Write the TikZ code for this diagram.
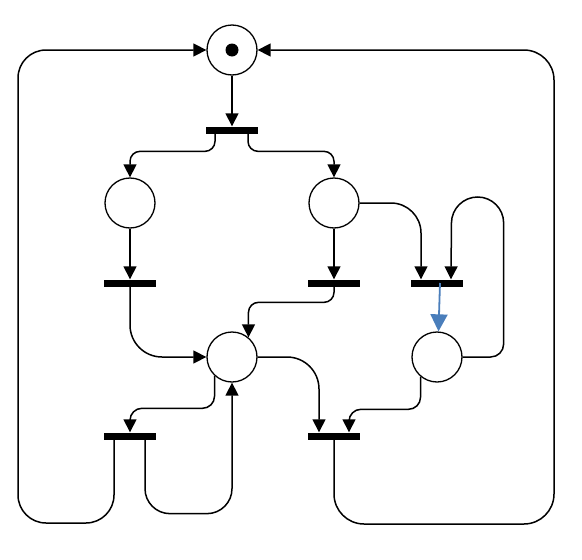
\documentclass[tikz,border=0pt]{standalone}
\usetikzlibrary{arrows.meta,calc}
\definecolor{arcblue}{HTML}{4A7EBB}
\begin{document}
\begin{tikzpicture}[x=1pt,y=-1pt,
  place/.style={circle,draw,line width=1.3pt,minimum size=50pt,inner sep=0pt},
  trans/.style={rectangle,fill=black,minimum width=52pt,minimum height=7pt,inner sep=0pt},
  arc/.style={line width=1.5pt,-{Triangle[length=13pt,width=13pt]}},
  bluearc/.style={line width=1.8pt,arcblue,-{Triangle[length=17pt,width=17pt]}}]
\useasboundingbox (0,0) rectangle (582,560);
% places
\node[place] (P0) at (232,50) {};
\fill (P0.center) circle (6.5pt);
\node[place] (P1) at (130,203) {};
\node[place] (P2) at (334,203) {};
\node[place] (P3) at (232,357) {};
\node[place] (P4) at (437,357) {};
% transitions
\node[trans] (T0) at (232,130) {};
\node[trans] (T1) at (130,283) {};
\node[trans] (T2) at (334,283) {};
\node[trans] (T3) at (437,283) {};
\node[trans] (T4) at (130,436) {};
\node[trans] (T5) at (334,436) {};
% corner coordinates of outer loops
\coordinate (BL) at (18,523);
\coordinate (BR) at (554,524);
% arcs
\draw[arc] (P0.south) -- (T0.north);
\draw[arc,rounded corners=10pt] ([xshift=-17pt]T0.south) |- ($(P1.north)+(0,-26)$) -- (P1.north);
\draw[arc,rounded corners=10pt] ([xshift=16pt]T0.south) |- ($(P2.north)+(0,-26)$) -- (P2.north);
\draw[arc] (P1.south) -- (T1.north);
\draw[arc] (P2.south) -- (T2.north);
\draw[arc,rounded corners=30pt] (P2.east) -| ([xshift=-16pt]T3.north);
\draw[arc] (P4.east) [rounded corners=13pt] -- ++(41,0) [rounded corners=26pt] -- ++(0,-160) -- ++(-52,0) -- ([xshift=14pt]T3.north);
\draw[bluearc] ([xshift=3pt]T3.center) -- ([xshift=1.5pt]P4.north);
\draw[arc,rounded corners=32pt] (T1.south) |- (P3.west);
\draw[arc,rounded corners=10pt] (T2.south) |- ($(P3.50)+(0,-35)$) -- (P3.50);
\draw[arc,rounded corners=32pt] (P3.east) -| ([xshift=-15pt]T5.north);
\draw[arc,rounded corners=12pt] (P4.230) |- ($([xshift=15pt]T5.north)+(0,-23)$) -- ([xshift=15pt]T5.north);
\draw[arc,rounded corners=12pt] (P3.227) |- ($(T4.north)+(0,-24)$) -- (T4.north);
\draw[arc,rounded corners=25pt] ([xshift=15pt]T4.south) |- ($(P3.south)+(0,131)$) -- (P3.south);
\draw[arc,rounded corners=28pt] ([xshift=-16pt]T4.south) |- (BL) |- (P0.west);
\draw[arc,rounded corners=30pt] (T5.south) |- (BR) |- (P0.east);
\end{tikzpicture}
\end{document}
